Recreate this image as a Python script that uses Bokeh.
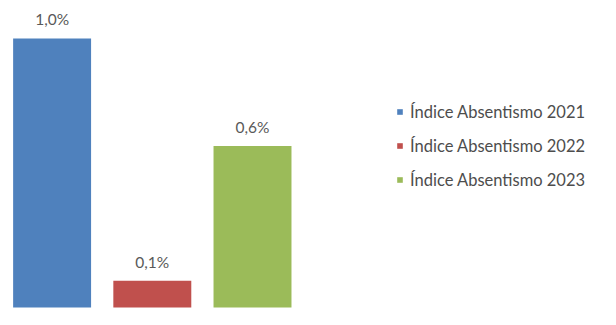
from bokeh.plotting import figure
from bokeh.models import ColumnDataSource, Range1d, Legend, LegendItem
from bokeh.core.properties import value
from bokeh.embed import file_html
from bokeh.resources import INLINE

series = ["Índice Absentismo 2021", "Índice Absentismo 2022", "Índice Absentismo 2023"]
values = [1.0, 0.1, 0.6]
colors = ["#4F81BD", "#C0504D", "#9BBB59"]
labels = [f"{v:.1f}%".replace(".", ",") for v in values]
xpos = list(range(len(series)))

FONT = "Lato"

p = figure(width=600, height=309, output_backend="svg", toolbar_location=None,
           x_range=Range1d(-0.515, 5.473), y_range=Range1d(-0.007, 1.141),
           min_border=0, outline_line_color=None)
p.axis.visible = False
p.grid.visible = False
p.background_fill_color = "white"
p.border_fill_color = "white"

items = []
for i, (name, v, c) in enumerate(zip(series, values, colors)):
    src = ColumnDataSource(dict(x=[xpos[i]], top=[v], lab=[labels[i]]))
    r = p.vbar(x="x", top="top", bottom=0, width=0.778, source=src,
               fill_color=c, line_color=None)
    p.text(x="x", y="top", text="lab", source=src, text_align="center",
           text_baseline="middle", y_offset=-19, text_font=value(FONT),
           text_font_size="15.5px", text_color="#595959")
    items.append(LegendItem(label=name, renderers=[r]))

legend = Legend(items=items, location=(396, 119), glyph_width=7, glyph_height=7,
                label_height=21, spacing=13, padding=0, margin=0,
                label_standoff=7, border_line_alpha=0, background_fill_alpha=0,
                label_text_font=FONT, label_text_font_size="16.5px",
                label_text_color="#4d4d4d")
p.add_layout(legend, "center")

open("out.html", "w").write(file_html(p, INLINE))
